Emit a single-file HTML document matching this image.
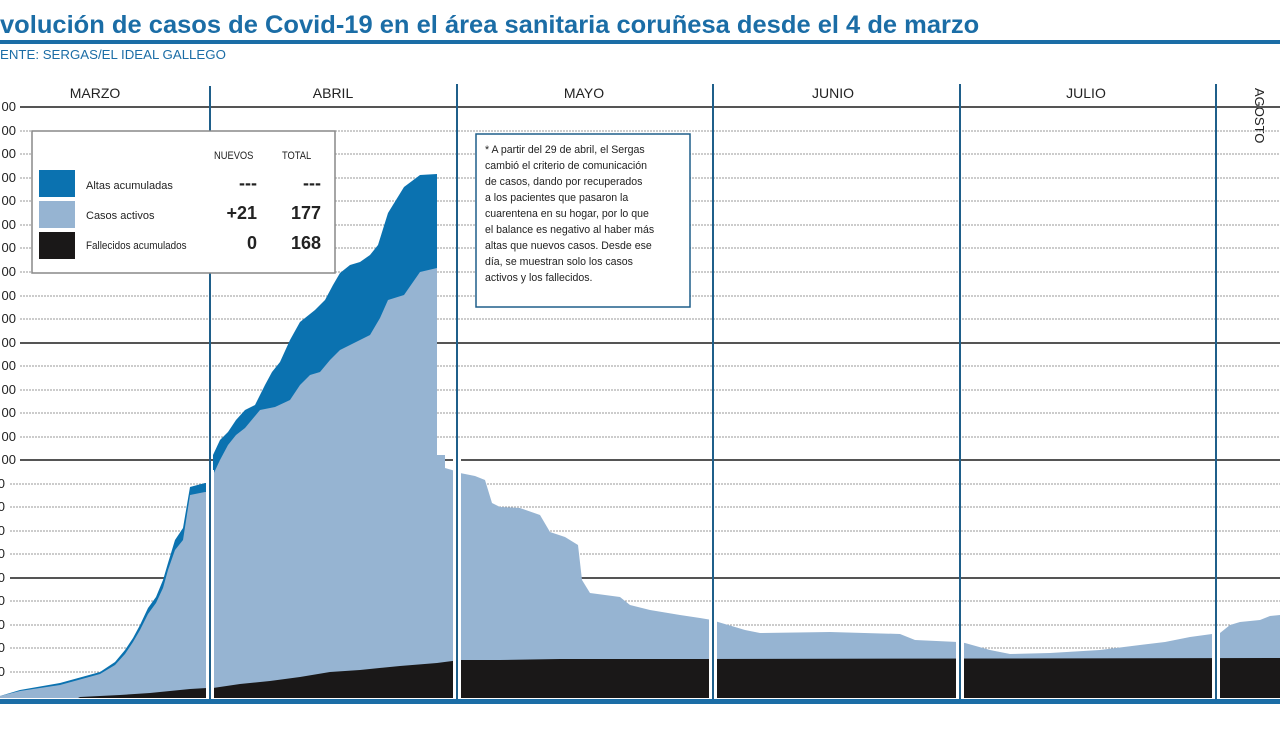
<!DOCTYPE html>
<html><head><meta charset="utf-8"><style>
body{margin:0;background:#fff;width:1280px;height:732px;overflow:hidden;font-family:"Liberation Sans",sans-serif}
svg{position:absolute;left:0;top:0}
</style></head><body>
<svg width="1280" height="732" viewBox="0 0 1280 732" font-family="Liberation Sans, sans-serif">
<text x="0" y="33" font-size="25" font-weight="bold" fill="#1b6da6" transform="scale(1.02,1)">volución de casos de Covid-19 en el área sanitaria coruñesa desde el 4 de marzo</text>
<rect x="0" y="40" width="1280" height="4" fill="#1b6da6"/>
<text x="0" y="59" font-size="13" fill="#1b6da6" transform="scale(1.02,1)">ENTE: SERGAS/EL IDEAL GALLEGO</text>
<g font-size="14" fill="#222" text-anchor="middle">
<text x="95" y="98">MARZO</text><text x="333" y="98">ABRIL</text><text x="584" y="98">MAYO</text><text x="833" y="98">JUNIO</text><text x="1086" y="98">JULIO</text>
<text x="0" y="0" font-size="13" transform="translate(1255,88) rotate(90)" text-anchor="start">AGOSTO</text>
</g>
<g stroke="#999" stroke-width="1" stroke-dasharray="2,1">
<line x1="20" y1="131" x2="1280" y2="131"/><line x1="20" y1="154" x2="1280" y2="154"/><line x1="20" y1="178" x2="1280" y2="178"/><line x1="20" y1="201" x2="1280" y2="201"/><line x1="20" y1="225" x2="1280" y2="225"/><line x1="20" y1="248" x2="1280" y2="248"/><line x1="20" y1="272" x2="1280" y2="272"/><line x1="20" y1="296" x2="1280" y2="296"/><line x1="20" y1="319" x2="1280" y2="319"/><line x1="20" y1="366" x2="1280" y2="366"/><line x1="20" y1="390" x2="1280" y2="390"/><line x1="20" y1="413" x2="1280" y2="413"/><line x1="20" y1="437" x2="1280" y2="437"/><line x1="10" y1="484" x2="1280" y2="484"/><line x1="10" y1="507" x2="1280" y2="507"/><line x1="10" y1="531" x2="1280" y2="531"/><line x1="10" y1="554" x2="1280" y2="554"/><line x1="10" y1="601" x2="1280" y2="601"/><line x1="10" y1="625" x2="1280" y2="625"/><line x1="10" y1="648" x2="1280" y2="648"/><line x1="10" y1="672" x2="1280" y2="672"/>
</g>
<g stroke="#555" stroke-width="2">
<line x1="20" y1="107" x2="1280" y2="107"/><line x1="20" y1="343" x2="1280" y2="343"/><line x1="20" y1="460" x2="1280" y2="460"/><line x1="10" y1="578" x2="1280" y2="578"/>
</g>
<g font-size="13" fill="#222" text-anchor="end">
<text x="16" y="111">00</text><text x="16" y="135">00</text><text x="16" y="158">00</text><text x="16" y="182">00</text><text x="16" y="205">00</text><text x="16" y="229">00</text><text x="16" y="252">00</text><text x="16" y="276">00</text><text x="16" y="300">00</text><text x="16" y="323">00</text><text x="16" y="347">00</text><text x="16" y="370">00</text><text x="16" y="394">00</text><text x="16" y="417">00</text><text x="16" y="441">00</text><text x="16" y="464">00</text>
<text x="5" y="488">0</text><text x="5" y="511">0</text><text x="5" y="535">0</text><text x="5" y="558">0</text><text x="5" y="582">0</text><text x="5" y="605">0</text><text x="5" y="629">0</text><text x="5" y="652">0</text><text x="5" y="676">0</text>
</g>
<polygon fill="#0b72b0" points="0,698 0,696 20,690 60,683 100,672 115,662 125,650 133,638 140,625 148,608 156,597 163,580 168,563 175,540 183,528 190,487 205,483 207,483 207,698 213,698 213,455 220,440 228,432 236,420 245,410 255,405 265,385 272,372 280,362 290,340 300,322 315,310 325,300 333,285 340,273 350,265 360,262 370,255 378,245 388,213 404,187 420,175 437,174 437,698"/>
<polygon fill="#96b4d2" points="0,698 0,696 20,691 60,685 100,674 115,665 125,654 133,642 140,630 148,614 156,603 163,588 168,570 175,550 183,540 190,495 205,492 207,492 207,698 213,698 213,475 220,460 228,445 236,435 245,428 260,410 275,407 290,400 300,385 310,375 320,372 330,360 340,350 350,345 370,335 380,318 388,300 404,295 420,272 437,268 437,455 445,455 445,468 452,470 460,473 475,476 485,480 492,503 500,507 520,508 540,515 550,532 565,537 578,545 582,580 590,593 620,597 630,605 650,610 680,615 700,618 712,620 718,622 735,627 745,630 760,633 830,632 900,634 915,640 958,642 965,643 990,650 1010,654 1050,653 1100,650 1140,645 1165,642 1190,637 1212,634 1220,633 1230,625 1240,622 1260,620 1270,616 1280,615 1280,698"/>
<polygon fill="#1a1818" points="78,698 80,697 120,695 150,693 170,691 190,689 207,688 207,698 213,698 213,688 240,684 270,681 300,677 330,672 360,670 400,666 437,663 460,660 500,660 560,659 700,659 1280,658 1280,698"/>
<g fill="#fff"><rect x="206" y="470" width="8" height="232"/><rect x="453" y="452" width="8" height="250"/><rect x="709" y="615" width="8" height="87"/><rect x="956" y="630" width="8" height="72"/><rect x="1212" y="628" width="8" height="74"/></g>
<g stroke="#1f5f8a" stroke-width="2">
<line x1="210" y1="86" x2="210" y2="700"/><line x1="457" y1="84" x2="457" y2="700"/><line x1="713" y1="84" x2="713" y2="700"/><line x1="960" y1="84" x2="960" y2="700"/><line x1="1216" y1="84" x2="1216" y2="700"/>
</g>
<rect x="0" y="699" width="1280" height="5" fill="#1b6da6"/>
<rect x="32" y="131" width="303" height="142" fill="#fff" stroke="#888" stroke-width="1.5"/>
<g font-size="11" fill="#222">
<text x="214" y="159" transform="translate(214,0) scale(0.85,1) translate(-214,0)">NUEVOS</text>
<text x="282" y="159" transform="translate(282,0) scale(0.85,1) translate(-282,0)">TOTAL</text>
<text x="86" y="189">Altas acumuladas</text><text x="86" y="219">Casos activos</text><text x="86" y="249" transform="translate(86,0) scale(0.9,1) translate(-86,0)">Fallecidos acumulados</text>
</g>
<rect x="39" y="170" width="36" height="27" fill="#0b72b0"/><rect x="39" y="201" width="36" height="27" fill="#96b4d2"/><rect x="39" y="232" width="36" height="27" fill="#1a1818"/>
<g font-size="18" font-weight="bold" fill="#222" text-anchor="end">
<text x="257" y="189">---</text><text x="321" y="189">---</text>
<text x="257" y="219">+21</text><text x="321" y="219">177</text>
<text x="257" y="249">0</text><text x="321" y="249">168</text>
</g>
<rect x="476" y="134" width="214" height="173" fill="#fff" stroke="#1f5f8a" stroke-width="1.5"/>
<g font-size="11.5" fill="#222" transform="translate(485,0) scale(0.92,1)">
<text x="0" y="153">* A partir del 29 de abril, el Sergas</text>
<text x="0" y="169">cambió el criterio de comunicación</text>
<text x="0" y="185">de casos, dando por recuperados</text>
<text x="0" y="201">a los pacientes que pasaron la</text>
<text x="0" y="217">cuarentena en su hogar, por lo que</text>
<text x="0" y="233">el balance es negativo al haber más</text>
<text x="0" y="249">altas que nuevos casos. Desde ese</text>
<text x="0" y="265">día, se muestran solo los casos</text>
<text x="0" y="281">activos y los fallecidos.</text>
</g>
</svg>
</body></html>
